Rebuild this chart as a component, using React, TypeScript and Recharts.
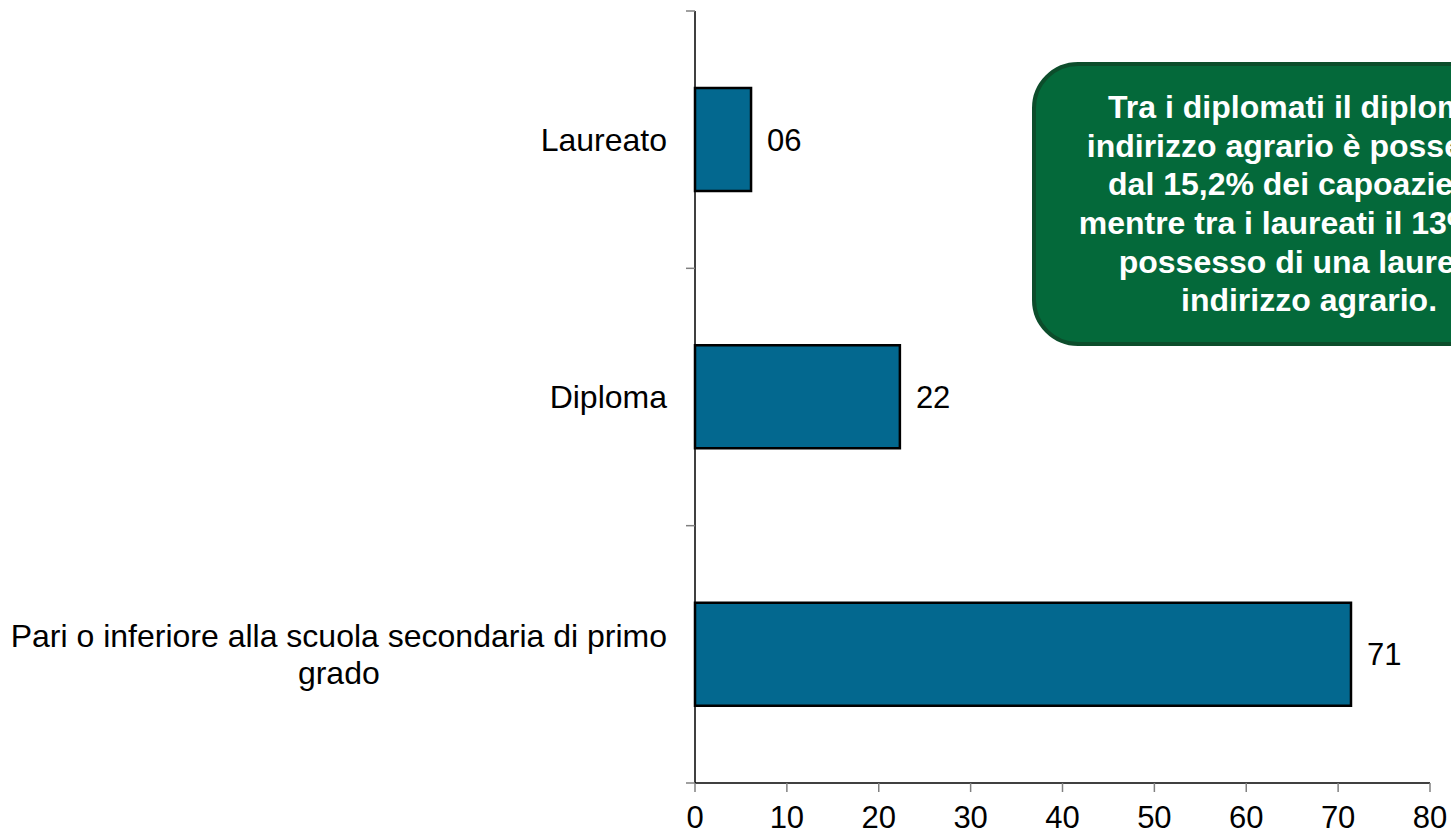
import * as React from "react";
import { BarChart, Bar, XAxis, YAxis, LabelList } from "recharts";

// titolo di studio dei capoaziende (%)
const categories = [
  "Laureato",
  "Diploma",
  "Pari o inferiore alla scuola secondaria di primo grado",
];
const values = [6.1, 22.3, 71.4];
const xTicks = [0, 10, 20, 30, 40, 50, 60, 70, 80];

const noteLines = [
  "Tra i diplomati il diploma a",
  "indirizzo agrario è posseduto",
  "dal 15,2% dei capoaziende",
  "mentre tra i laureati il 13% è in",
  "possesso di una laurea a",
  "indirizzo agrario.",
];

const W = 1451;
const H = 835;
const FONT = "'Liberation Sans', Arial, sans-serif";
const MARGIN = { top: 11, right: 21, bottom: 0, left: 0 };
const Y_AXIS_W = 695;
const X_AXIS_H = 52;
const BAND = (H - MARGIN.top - MARGIN.bottom - X_AXIS_H) / categories.length;

const LABEL_SIZE = 32;
const LABEL_GAP = 28;
const LABEL_MAX_W = 665;
const LINE_H = 36.5;

let ctx: CanvasRenderingContext2D | null = null;
function measure(s: string): number {
  if (!ctx) {
    ctx = document.createElement("canvas").getContext("2d");
    if (ctx) ctx.font = `${LABEL_SIZE}px "Liberation Sans"`;
  }
  return ctx ? ctx.measureText(s).width : s.length * LABEL_SIZE * 0.5;
}

function wrap(text: string, maxW: number): string[] {
  const words = text.split(" ");
  const lines: string[] = [];
  let cur = "";
  for (const w of words) {
    const next = cur ? cur + " " + w : w;
    if (cur && measure(next) > maxW) {
      lines.push(cur);
      cur = w;
    } else {
      cur = next;
    }
  }
  if (cur) lines.push(cur);
  return lines;
}

function CategoryTick(props: any) {
  const { x, y, payload, index } = props;
  const lines = wrap(String(payload?.value ?? ""), LABEL_MAX_W);
  const maxW = Math.max(...lines.map(measure));
  const cx = x - LABEL_GAP - maxW / 2;
  const y0 = y - ((lines.length - 1) * LINE_H) / 2;
  const last = index === categories.length - 1;
  return (
    <g>
      <text textAnchor="middle" fontSize={LABEL_SIZE} fill="#000" fontFamily={FONT}>
        {lines.map((l, i) => (
          <tspan key={i} x={cx} y={y0 + i * LINE_H} dy="0.355em">
            {l}
          </tspan>
        ))}
      </text>
      <line x1={x - 9} x2={x} y1={y - BAND / 2} y2={y - BAND / 2} stroke="#808080" strokeWidth={1.5} />
      {last && (
        <line x1={x - 9} x2={x} y1={y + BAND / 2} y2={y + BAND / 2} stroke="#808080" strokeWidth={1.5} />
      )}
    </g>
  );
}

function fmtLabel(v: unknown): string {
  const n = Number(v);
  if (!Number.isFinite(n)) return "";
  return String(Math.round(n)).padStart(2, "0");
}

export default function App() {
  const data = categories.map((name, i) => ({ name, value: values[i] }));

  return (
    <div
      style={{
        position: "fixed",
        left: 0,
        top: 0,
        width: W,
        height: H,
        overflow: "hidden",
        background: "#fff",
        fontFamily: FONT,
      }}
    >
      <BarChart width={W} height={H} data={data} layout="vertical" margin={MARGIN}>
        <XAxis
          type="number"
          domain={[0, 80]}
          ticks={xTicks}
          interval={0}
          height={X_AXIS_H}
          tickSize={9}
          tickMargin={14}
          axisLine={{ stroke: "#000", strokeWidth: 1.5 }}
          tickLine={{ stroke: "#808080", strokeWidth: 1.5 }}
          tick={{ fill: "#000", fontSize: 31, fontFamily: FONT }}
        />
        <YAxis
          type="category"
          dataKey="name"
          width={Y_AXIS_W}
          interval={0}
          tickSize={0}
          tickMargin={0}
          tickLine={false}
          axisLine={{ stroke: "#000", strokeWidth: 1.5 }}
          tick={(p: any) => <CategoryTick {...p} />}
        />
        <Bar
          dataKey="value"
          fill="#03688f"
          stroke="#000"
          strokeWidth={2.5}
          barSize={103}
          isAnimationActive={false}
        >
          <LabelList
            dataKey="value"
            position="right"
            offset={16}
            formatter={fmtLabel}
            fill="#000"
            fontSize={31}
            fontFamily={FONT}
          />
        </Bar>
      </BarChart>

      <div
        style={{
          position: "absolute",
          left: 1032,
          top: 62,
          width: 554,
          height: 284,
          boxSizing: "border-box",
          border: "4px solid #0c4d2b",
          borderRadius: 46,
          background: "#04693a",
          color: "#fff",
          fontWeight: "bold",
          fontSize: 32,
          lineHeight: "38.7px",
          textAlign: "center",
          display: "flex",
          flexDirection: "column",
          justifyContent: "center",
          whiteSpace: "nowrap",
        }}
      >
        {noteLines.map((l, i) => (
          <div key={i}>{l}</div>
        ))}
      </div>
    </div>
  );
}
